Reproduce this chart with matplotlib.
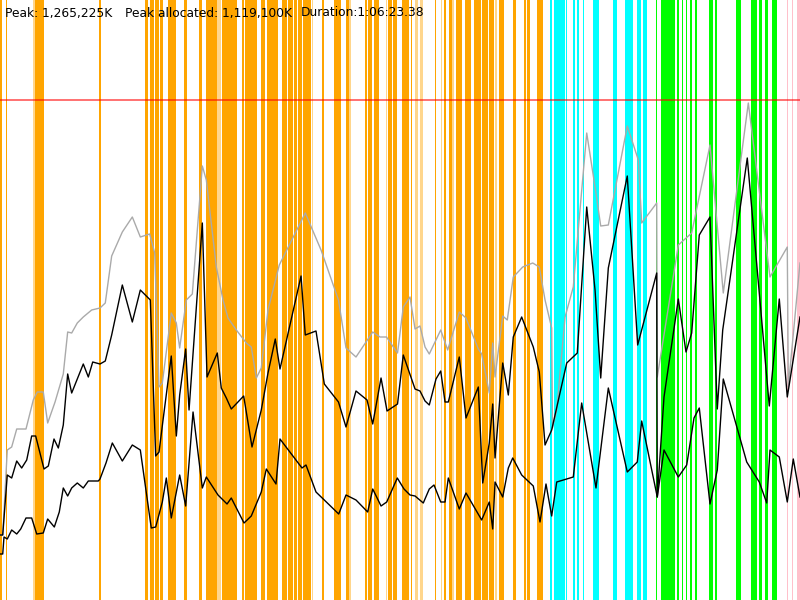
import matplotlib
matplotlib.use("Agg")
import matplotlib.pyplot as plt

PEAK_K = 1265225
PEAK_ALLOC_K = 1119100
DURATION = "1:06:23.38"

# time as % of the run, memory as % of peak
heap_t = [0, 0.34, 0.91, 1.46, 2.09, 3.25, 4.16, 4.66, 5.41, 5.96, 6.88, 7.91, 8.46, 8.96,
          9.66, 10.41, 11.46, 12.5, 13.16, 13.96, 15.29, 16.54, 17.54, 18.71, 19.34, 19.88,
          20.29, 21.41, 22.04, 22.46, 23.29, 24.04, 25.29, 25.79, 27.04, 27.88, 28.5, 29.54,
          30.79, 31.41, 32.04, 32.66, 33.5, 34.91, 38.16, 40.13, 42.31, 43.25, 44.5, 46.59,
          47.5, 48.31, 49.69, 50.41, 51.25, 51.88, 52.5, 53.13, 53.66, 55.09, 55.96, 57.41,
          58.25, 59.79, 60.21, 61.16, 61.59, 61.88, 62.84, 63.41, 64.16, 65.34, 66.59, 67.41,
          68.13, 68.96, 69.06, 69.59, 70.63, 71.66, 73.34, 74.38, 75.09, 76.04, 78.41, 79.79,
          80.21, 82.09, 82.16, 84.79, 86.46, 88.75, 90.41, 93.54, 96.25, 98.41, 98.54, 100]
heap_v = [13.0, 13.0, 30.0, 30.6, 34.2, 34.2, 40.0, 41.6, 41.6, 35.4, 39.6, 45.2, 53.6, 53.4,
          55.4, 56.6, 58.0, 58.4, 59.4, 68.8, 73.6, 76.6, 72.6, 73.2, 69.4, 42.6,
          43.4, 57.4, 55.4, 50.4, 60.0, 61.2, 86.8, 84.0, 66.6, 60.0, 56.4, 54.0,
          51.4, 50.6, 44.4, 46.4, 58.0, 67.0, 77.4, 70.0, 60.0, 50.4, 48.6, 53.6,
          52.6, 52.6, 49.4, 58.6, 60.6, 54.2, 54.8, 50.6, 49.2, 54.0, 50.0, 57.6,
          56.4, 50.2, 49.2, 41.4, 51.4, 44.6, 56.8, 56.0, 64.6, 66.6, 67.4, 66.6,
          60.0, 54.4, 34.4, 38.0, 56.6, 62.6, 93.4, 82.6, 74.8, 75.0, 94.8, 88.0,
          75.4, 79.4, 44.6, 71.0, 73.4, 91.0, 61.4, 99.4, 64.6, 70.6, 42.6, 67.4]

alloc_t = [0, 0.34, 0.91, 1.46, 2.09, 2.71, 3.34, 3.96, 4.46, 5.5, 6.04, 6.75, 7.29, 7.91,
           8.46, 8.96, 10.41, 11.04, 11.59, 12.5, 13.16, 13.96, 15.29, 16.54, 17.54, 18.79,
           19.46, 19.88, 20.38, 21.41, 22.04, 22.46, 23.21, 23.63, 25.29, 25.88, 27.16, 27.66,
           28.29, 28.91, 30.46, 31.5, 32.66, 33.5, 34.41, 35.0, 37.63, 38.16, 39.5, 40.54,
           42.31, 43.25, 44.5, 45.88, 46.59, 47.63, 48.38, 49.69, 50.41, 51.88, 52.5, 53.13,
           53.66, 54.5, 55.09, 55.63, 56.04, 57.41, 58.25, 59.79, 60.34, 61.16, 61.59, 61.88,
           62.84, 63.54, 64.16, 65.21, 66.66, 67.41, 68.13, 68.96, 70.84, 72.16, 73.34, 74.38,
           75.09, 76.04, 78.41, 79.71, 82.09, 82.16, 83.0, 84.79, 85.75, 86.46, 87.41, 88.75,
           89.66, 90.34, 93.41, 95.21, 96.16, 97.41, 98.41, 100]
alloc_v = [13.0, 13.0, 25.0, 24.4, 27.8, 26.4, 28.0, 32.8, 32.8, 26.2, 26.8, 32.2, 30.4, 35.0,
           45.2, 41.4, 47.2, 44.6, 47.6, 47.2, 47.8, 53.0, 63.0, 55.6, 62.0, 60.0,
           28.8, 29.6, 36.0, 48.8, 32.8, 41.0, 50.2, 38.0, 75.4, 44.6, 49.4, 42.4,
           40.4, 38.2, 40.8, 30.6, 38.0, 45.4, 52.2, 46.2, 64.8, 53.0, 53.8, 43.2,
           39.6, 34.6, 41.8, 40.0, 35.2, 44.4, 37.8, 39.2, 49.0, 42.2, 41.8, 39.8,
           39.0, 44.2, 45.8, 39.6, 39.6, 48.6, 36.4, 42.6, 23.4, 31.4, 39.2, 28.4,
           47.4, 41.0, 52.6, 56.6, 50.6, 45.6, 31.0, 34.0, 47.4, 49.4, 78.6, 62.0,
           44.4, 66.4, 84.8, 51.0, 65.4, 20.6, 40.6, 60.2, 49.6, 53.4, 73.0, 76.6,
           38.2, 54.0, 88.4, 56.0, 38.8, 60.2, 40.6, 56.6]

live_t = [0, 0.34, 0.5, 0.91, 1.46, 2.09, 2.59, 3.25, 3.96, 4.59, 5.41, 5.96, 6.79, 7.41,
          7.91, 8.46, 8.96, 9.66, 10.41, 11.04, 12.29, 12.5, 13.25, 14.04, 15.29, 16.54,
          17.54, 18.91, 19.46, 19.96, 20.29, 20.79, 21.41, 22.46, 23.21, 24.13, 25.29, 25.79,
          27.25, 28.38, 28.91, 30.5, 31.41, 32.66, 33.29, 34.5, 35.0, 37.75, 38.25, 39.5,
          42.34, 43.25, 44.5, 45.96, 46.59, 47.63, 48.34, 49.66, 50.5, 51.25, 51.88, 52.91,
          53.66, 54.25, 55.09, 55.63, 56.04, 57.41, 58.25, 60.21, 61.16, 61.59, 61.88, 62.84,
          63.54, 64.09, 65.21, 66.66, 67.5, 68.25, 68.96, 69.59, 71.66, 72.71, 74.5, 76.04,
          78.41, 79.66, 80.21, 82.16, 83.0, 84.79, 85.84, 86.75, 87.41, 88.75, 89.66, 90.41,
          93.34, 94.91, 95.84, 96.25, 97.41, 98.41, 99.16, 100]
live_v = [9.2, 9.2, 12.6, 12.2, 14.0, 13.2, 14.2, 16.4, 16.4, 13.2, 13.4, 16.2, 14.6, 17.6,
          22.4, 20.8, 22.4, 23.4, 22.4, 23.8, 23.8, 24.2, 27.4, 31.4, 27.8, 31.0,
          30.0, 14.4, 14.6, 17.6, 19.6, 24.4, 16.4, 25.0, 18.8, 37.6, 22.4, 24.6,
          21.0, 19.2, 20.4, 15.4, 16.8, 21.6, 26.2, 23.2, 32.2, 26.4, 27.0, 21.6,
          17.2, 21.0, 20.0, 17.6, 22.2, 18.8, 19.6, 24.4, 22.2, 21.0, 20.8, 19.4,
          22.2, 23.0, 19.6, 19.6, 24.4, 18.2, 21.4, 16.0, 19.6, 14.2, 23.6, 20.6,
          26.4, 28.4, 25.0, 22.8, 15.6, 23.2, 16.8, 23.6, 24.6, 39.4, 22.4, 42.4,
          25.6, 27.6, 35.8, 20.6, 30.0, 24.6, 27.0, 36.4, 38.4, 19.2, 26.0, 44.2,
          27.6, 23.6, 19.4, 30.0, 28.6, 19.6, 28.2, 20.6]

# event spans (start, end) in % of run, one list per event kind
orange_spans = [(0.0, 0.21), (0.75, 0.91), (4.41, 5.44), (12.41, 12.59),
                (18.13, 18.54), (18.75, 19.25), (19.38, 19.88), (20.0, 20.34), (21.04, 21.96),
                (23.0, 23.34), (24.91, 25.29), (25.71, 27.16), (27.71, 29.59), (30.21, 30.5),
                (30.63, 32.16), (32.59, 33.13), (33.34, 34.79), (35.21, 35.84), (35.96, 36.66),
                (36.75, 37.09), (37.29, 37.71), (37.84, 38.84), (40.21, 40.5), (41.79, 42.59),
                (43.25, 43.63), (45.63, 45.84), (45.96, 46.54), (46.75, 47.41), (48.54, 49.04),
                (49.16, 49.59), (50.21, 51.16), (51.38, 51.54), (54.38, 54.5), (55.5, 55.75),
                (56.16, 56.5), (57.0, 57.71), (58.13, 58.84), (59.25, 60.09), (60.21, 61.04),
                (61.13, 61.75), (62.38, 63.0), (64.16, 64.46), (65.5, 65.75), (65.84, 66.25),
                (67.16, 67.84)]
light_orange_spans = [(4.16, 4.41), (27.16, 27.59), (38.96, 39.16), (43.63, 43.84),
                      (48.25, 48.41), (51.88, 52.29), (52.5, 52.91), (55.09, 55.25),
                      (56.54, 56.75), (61.88, 62.09)]
cyan_spans = [(68.75, 68.96), (69.25, 70.63), (70.75, 70.91), (71.66, 71.88), (72.09, 72.41),
              (72.84, 73.0), (74.16, 74.91), (76.59, 77.16), (78.13, 79.09), (79.59, 80.09),
              (80.34, 80.84)]
green_spans = [(82.0, 82.16), (82.59, 84.38), (84.59, 84.91), (85.21, 85.41), (85.75, 85.91),
               (86.25, 86.46), (86.88, 87.09), (88.66, 89.09), (89.38, 89.66), (92.0, 92.59),
               (93.84, 94.66), (94.91, 95.21), (95.63, 96.04), (96.46, 97.09)]
pink_spans = [(98.34, 98.54), (98.96, 99.16), (99.59, 100.0)]


def to_k(vals):
    return [v / 100 * PEAK_K for v in vals]


fig = plt.figure(figsize=(8, 6), dpi=100)
ax = fig.add_axes([0, 0, 1, 1])
ax.set_axis_off()
ax.set_xlim(0, 100)
ax.set_ylim(0, PEAK_K * 1.2)

for spans, color, alpha in [(orange_spans, '#ffa500', 1.0),
                            (light_orange_spans, '#ffa500', 0.45),
                            (cyan_spans, '#00ffff', 1.0),
                            (green_spans, '#00ff00', 1.0),
                            (pink_spans, '#ffc0cb', 1.0)]:
    for a, b in spans:
        ax.axvspan(a, b, color=color, alpha=alpha, lw=0, zorder=1)

ax.axhline(PEAK_K, color='red', alpha=0.6, lw=1.3, zorder=3)

ax.plot(heap_t, to_k(heap_v), color='#aaaaaa', lw=1.0, zorder=4)
ax.plot(alloc_t, to_k(alloc_v), color='black', lw=1.0, zorder=5)
ax.plot(live_t, to_k(live_v), color='black', lw=1.0, zorder=5)

ty = 1 - 13 / 600
fig.text(5 / 800, ty, f"Peak: {PEAK_K:,}K", fontsize=8.8, va='center')
fig.text(125 / 800, ty, f"Peak allocated: {PEAK_ALLOC_K:,}K", fontsize=8.8, va='center')
fig.text(301 / 800, ty, f"Duration:{DURATION}", fontsize=8.8, va='center')

fig.savefig("out.png", dpi=100)
